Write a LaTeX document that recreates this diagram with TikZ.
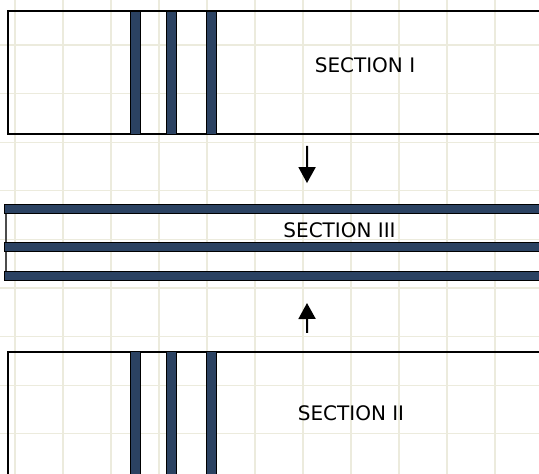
\documentclass[tikz,border=0pt]{standalone}
\usepackage{fontspec}
\setmainfont{DejaVu Sans}
\usepackage{tikz}
\usetikzlibrary{arrows.meta, positioning}
\definecolor{barblue}{HTML}{2B4262}
\definecolor{gridbeige}{HTML}{ECEBDD}

\begin{document}
\begin{tikzpicture}[x=0.75pt, y=-0.75pt,
    gridline/.style={gridbeige, line width=0.9pt},
    secbox/.style={draw=black, line width=1.5pt, minimum width=448.35pt, inner sep=0pt},
    bar/.style={draw=black, fill=barblue, line width=1.1pt},
    label/.style={font=\fontsize{15}{18}\selectfont, inner sep=0pt},
    flow/.style={line width=1.5pt, -{Triangle[length=12pt, width=12.75pt]}}]
    \clip (0,0) rectangle (539,474);
    % Lưới nền
    \foreach \k in {0,...,10} {
        \draw[gridline] (15+48*\k, 0) -- (15+48*\k, 474);
    }
    \foreach \k in {0,...,8} {
        \draw[gridline] (0, 45+48.6*\k) -- (539, 45+48.6*\k);
    }
    % Các khối
    \node[secbox, minimum height=92.6pt] (sec1) at (307.1, 72.55) {};
    \node[secbox, minimum height=126.2pt] (sec2) at (307.1, 435.85) {};
    \node[minimum width=454.5pt, minimum height=57.75pt, inner sep=0pt] (sec3) at (307, 242.5) {};
    % Thanh đứng
    \foreach \x in {130,166,206} {
        \draw[bar] (\x+0.7, 10.8) rectangle (\x+10.3, 134.3);
        \draw[bar] (\x+0.7, 351.7) rectangle (\x+10.3, 520);
    }
    % Thanh ngang
    \draw[black!70, line width=1.1pt] (6, 214) -- (6, 271);
    \foreach \y in {204,242,271} {
        \draw[bar] (4.7, \y+0.7) rectangle (620, \y+9.3);
    }
    % Nhãn
    \node[label] (lab1) at (365, 65) {SECTION I};
    \node[label] (lab3) at (339.5, 230) {SECTION III};
    \node[label] (lab2) at (351, 413) {SECTION II};
    % Mũi tên
    \draw[flow] ([yshift=-8pt]sec1.south) -- ([yshift=15.5pt]sec3.north);
    \draw[flow] ([yshift=13.3pt]sec2.north) -- ([yshift=-16.3pt]sec3.south);
\end{tikzpicture}
\end{document}
